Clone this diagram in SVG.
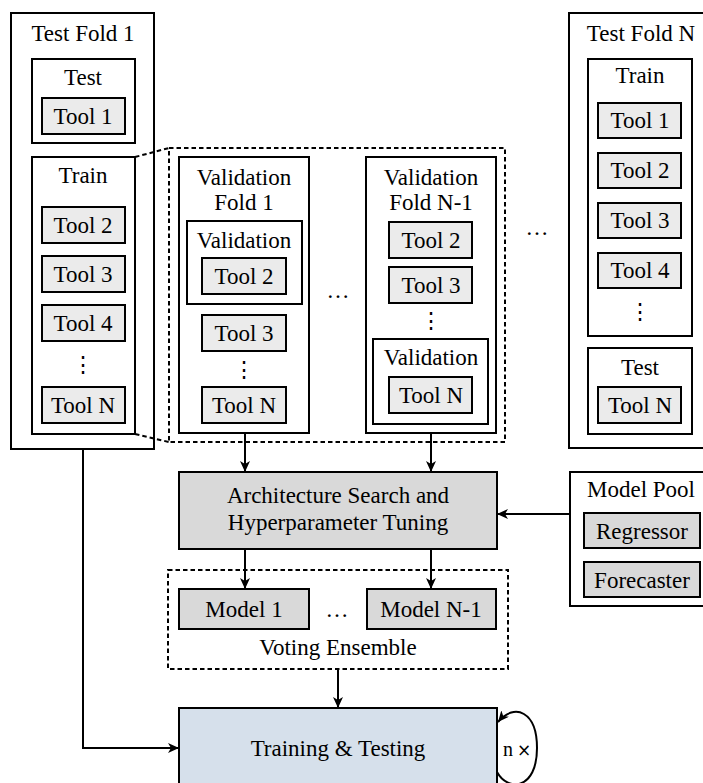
<svg xmlns="http://www.w3.org/2000/svg" width="703" height="783" viewBox="0 0 703 783">
<defs>
<marker id="ah" markerUnits="userSpaceOnUse" markerWidth="12" markerHeight="10" refX="11" refY="5" orient="auto">
<path d="M0,0 L11,5 L0,10 L3,5 z" fill="#000"/>
</marker>
</defs>
<rect width="703" height="783" fill="#fff"/>

<g id="testfold1">
<rect x="11" y="13" width="143" height="436" fill="#fff" stroke="#000" stroke-width="2"/>
<text x="83" y="41" font-family="Liberation Serif" font-size="23" text-anchor="middle">Test Fold 1</text>
<rect x="32" y="59" width="103" height="84" fill="#fff" stroke="#000" stroke-width="2"/>
<text x="83" y="85" font-family="Liberation Serif" font-size="23" text-anchor="middle">Test</text>
<rect x="42" y="98" width="83" height="36" fill="#ebebeb" stroke="#000" stroke-width="2"/>
<text x="83" y="124" font-family="Liberation Serif" font-size="23" text-anchor="middle">Tool 1</text>
<rect x="32" y="157" width="103" height="277" fill="#fff" stroke="#000" stroke-width="2"/>
<text x="83" y="183" font-family="Liberation Serif" font-size="23" text-anchor="middle">Train</text>
<rect x="42" y="207" width="83" height="36" fill="#ebebeb" stroke="#000" stroke-width="2"/>
<text x="83" y="233" font-family="Liberation Serif" font-size="23" text-anchor="middle">Tool 2</text>
<rect x="42" y="256" width="83" height="36" fill="#ebebeb" stroke="#000" stroke-width="2"/>
<text x="83" y="282" font-family="Liberation Serif" font-size="23" text-anchor="middle">Tool 3</text>
<rect x="42" y="305" width="83" height="36" fill="#ebebeb" stroke="#000" stroke-width="2"/>
<text x="83" y="331" font-family="Liberation Serif" font-size="23" text-anchor="middle">Tool 4</text>
<text x="83" y="372" font-family="DejaVu Serif" font-size="22" text-anchor="middle">&#8942;</text>
<rect x="42" y="387" width="83" height="36" fill="#ebebeb" stroke="#000" stroke-width="2"/>
<text x="83" y="413" font-family="Liberation Serif" font-size="23" text-anchor="middle">Tool N</text>
</g>

<g id="valfold1">
<rect x="179" y="157" width="130" height="276" fill="#fff" stroke="#000" stroke-width="2"/>
<text x="244" y="185" font-family="Liberation Serif" font-size="23" text-anchor="middle">Validation</text>
<text x="244" y="210" font-family="Liberation Serif" font-size="23" text-anchor="middle">Fold 1</text>
<rect x="187" y="221" width="115" height="83" fill="#fff" stroke="#000" stroke-width="2"/>
<text x="244" y="248" font-family="Liberation Serif" font-size="23" text-anchor="middle">Validation</text>
<rect x="202" y="258" width="84" height="36" fill="#ebebeb" stroke="#000" stroke-width="2"/>
<text x="244" y="284" font-family="Liberation Serif" font-size="23" text-anchor="middle">Tool 2</text>
<rect x="202" y="315" width="84" height="36" fill="#ebebeb" stroke="#000" stroke-width="2"/>
<text x="244" y="341" font-family="Liberation Serif" font-size="23" text-anchor="middle">Tool 3</text>
<text x="244" y="377" font-family="DejaVu Serif" font-size="22" text-anchor="middle">&#8942;</text>
<rect x="202" y="387" width="84" height="36" fill="#ebebeb" stroke="#000" stroke-width="2"/>
<text x="244" y="413" font-family="Liberation Serif" font-size="23" text-anchor="middle">Tool N</text>
</g>

<text x="338" y="298" font-family="Liberation Serif" font-size="23" text-anchor="middle">&#8230;</text>

<g id="valfoldN1">
<rect x="366" y="157" width="130" height="276" fill="#fff" stroke="#000" stroke-width="2"/>
<text x="431" y="185" font-family="Liberation Serif" font-size="23" text-anchor="middle">Validation</text>
<text x="431" y="210" font-family="Liberation Serif" font-size="23" text-anchor="middle">Fold N-1</text>
<rect x="389" y="222" width="83" height="36" fill="#ebebeb" stroke="#000" stroke-width="2"/>
<text x="431" y="248" font-family="Liberation Serif" font-size="23" text-anchor="middle">Tool 2</text>
<rect x="389" y="267" width="83" height="36" fill="#ebebeb" stroke="#000" stroke-width="2"/>
<text x="431" y="293" font-family="Liberation Serif" font-size="23" text-anchor="middle">Tool 3</text>
<text x="431" y="328" font-family="DejaVu Serif" font-size="22" text-anchor="middle">&#8942;</text>
<rect x="373" y="339" width="115" height="85" fill="#fff" stroke="#000" stroke-width="2"/>
<text x="431" y="365" font-family="Liberation Serif" font-size="23" text-anchor="middle">Validation</text>
<rect x="389" y="377" width="83" height="36" fill="#ebebeb" stroke="#000" stroke-width="2"/>
<text x="431" y="403" font-family="Liberation Serif" font-size="23" text-anchor="middle">Tool N</text>
</g>

<text x="537" y="235" font-family="Liberation Serif" font-size="23" text-anchor="middle">&#8230;</text>

<g id="testfoldN">
<rect x="569" y="13" width="145" height="435" fill="#fff" stroke="#000" stroke-width="2"/>
<text x="641" y="41" font-family="Liberation Serif" font-size="23" text-anchor="middle">Test Fold N</text>
<rect x="588" y="59" width="104" height="277" fill="#fff" stroke="#000" stroke-width="2"/>
<text x="640" y="83" font-family="Liberation Serif" font-size="23" text-anchor="middle">Train</text>
<rect x="598" y="103" width="83" height="35" fill="#ebebeb" stroke="#000" stroke-width="2"/>
<text x="640" y="128" font-family="Liberation Serif" font-size="23" text-anchor="middle">Tool 1</text>
<rect x="598" y="153" width="83" height="35" fill="#ebebeb" stroke="#000" stroke-width="2"/>
<text x="640" y="178" font-family="Liberation Serif" font-size="23" text-anchor="middle">Tool 2</text>
<rect x="598" y="203" width="83" height="35" fill="#ebebeb" stroke="#000" stroke-width="2"/>
<text x="640" y="228" font-family="Liberation Serif" font-size="23" text-anchor="middle">Tool 3</text>
<rect x="598" y="253" width="83" height="35" fill="#ebebeb" stroke="#000" stroke-width="2"/>
<text x="640" y="278" font-family="Liberation Serif" font-size="23" text-anchor="middle">Tool 4</text>
<text x="640" y="319" font-family="DejaVu Serif" font-size="22" text-anchor="middle">&#8942;</text>
<rect x="588" y="348" width="104" height="86" fill="#fff" stroke="#000" stroke-width="2"/>
<text x="640" y="375" font-family="Liberation Serif" font-size="23" text-anchor="middle">Test</text>
<rect x="598" y="387" width="83" height="36" fill="#ebebeb" stroke="#000" stroke-width="2"/>
<text x="640" y="413" font-family="Liberation Serif" font-size="23" text-anchor="middle">Tool N</text>
</g>

<g id="arch">
<rect x="179" y="472" width="318" height="77" fill="#d9d9d9" stroke="#000" stroke-width="2"/>
<text x="338" y="503" font-family="Liberation Serif" font-size="23" text-anchor="middle">Architecture Search and</text>
<text x="338" y="530" font-family="Liberation Serif" font-size="23" text-anchor="middle">Hyperparameter Tuning</text>
</g>

<g id="modelpool">
<rect x="570" y="472" width="145" height="134" fill="#fff" stroke="#000" stroke-width="2"/>
<text x="641" y="497" font-family="Liberation Serif" font-size="23" text-anchor="middle">Model Pool</text>
<rect x="584" y="513" width="116" height="35" fill="#d9d9d9" stroke="#000" stroke-width="2"/>
<text x="642" y="539" font-family="Liberation Serif" font-size="23" text-anchor="middle">Regressor</text>
<rect x="584" y="562" width="116" height="35" fill="#d9d9d9" stroke="#000" stroke-width="2"/>
<text x="642" y="588" font-family="Liberation Serif" font-size="23" text-anchor="middle">Forecaster</text>
</g>

<g id="ensemble">
<rect x="168" y="570" width="340" height="99" fill="none" stroke="#000" stroke-width="2" stroke-dasharray="4.5 3"/>
<rect x="179" y="589" width="130" height="40" fill="#d9d9d9" stroke="#000" stroke-width="2"/>
<text x="244" y="617" font-family="Liberation Serif" font-size="23" text-anchor="middle">Model 1</text>
<text x="337" y="617" font-family="Liberation Serif" font-size="23" text-anchor="middle">&#8230;</text>
<rect x="367" y="589" width="129" height="40" fill="#d9d9d9" stroke="#000" stroke-width="2"/>
<text x="431" y="617" font-family="Liberation Serif" font-size="23" text-anchor="middle">Model N-1</text>
<text x="338" y="655" font-family="Liberation Serif" font-size="23" text-anchor="middle">Voting Ensemble</text>
</g>

<g id="training">
<rect x="179" y="708" width="318" height="90" fill="#d6e0eb" stroke="#000" stroke-width="2"/>
<text x="338" y="756" font-family="Liberation Serif" font-size="23" text-anchor="middle">Training &amp; Testing</text>
<text x="508" y="756" font-family="Liberation Serif" font-size="20" text-anchor="middle">n</text>
<text x="524" y="756" font-family="DejaVu Sans" font-size="17" text-anchor="middle">&#215;</text>
</g>

<g id="connectors" fill="none" stroke="#000" stroke-width="2">
<rect x="169" y="148" width="336" height="294" stroke-dasharray="4.5 3"/>
<path d="M135 157 L169 148" stroke-dasharray="4.5 3"/>
<path d="M135 434 L169 442" stroke-dasharray="4.5 3"/>
<path d="M245 433 V472" marker-end="url(#ah)"/>
<path d="M431 433 V472" marker-end="url(#ah)"/>
<path d="M570 514 H497" marker-end="url(#ah)"/>
<path d="M245 549 V589" marker-end="url(#ah)"/>
<path d="M431 549 V589" marker-end="url(#ah)"/>
<path d="M338 669 V708" marker-end="url(#ah)"/>
<path d="M83 449 V748 H179" marker-end="url(#ah)"/>
<path d="M497 772 C508 792 537 790 537 748 C537 712 515 702 498 722" marker-end="url(#ah)"/>
</g>
</svg>
